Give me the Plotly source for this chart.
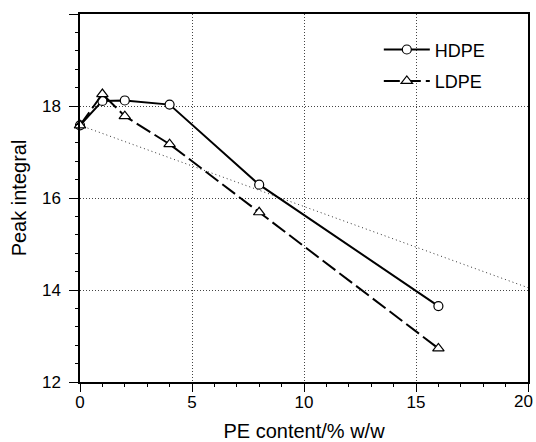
import plotly.graph_objects as go

# Data
pe_content = [0, 1, 2, 4, 8, 16]
hdpe = [17.58, 18.11, 18.12, 18.03, 16.29, 13.65]
ldpe = [17.58, 18.26, 17.78, 17.17, 15.69, 12.73]
ref_x = [0, 20]
ref_y = [17.58, 14.05]

x_ticks = [0, 5, 10, 15, 20]
x_ticktext = ["0", "5", "10", "15", ""]
x_edge_label = "20"
y_ticks = [12, 14, 16, 18, 20]
y_ticktext = ["12", "14", "16", "18", ""]

FONT = "Liberation Sans, Arial, sans-serif"

fig = go.Figure()

fig.add_trace(go.Scatter(
    x=ref_x, y=ref_y, mode="lines",
    line=dict(color="#333333", width=1, dash="1px,3px"),
    showlegend=False, hoverinfo="skip",
))

fig.add_trace(go.Scatter(
    x=pe_content, y=hdpe, mode="lines+markers", name="HDPE",
    line=dict(color="black", width=2),
    marker=dict(symbol="circle", size=9, color="white",
                line=dict(color="black", width=1.2)),
    cliponaxis=False, legendgroup="a",
))

fig.add_trace(go.Scatter(
    x=pe_content, y=ldpe, mode="lines+markers", name="LDPE",
    line=dict(color="black", width=2, dash="16px,5px"),
    marker=dict(symbol="triangle-up", size=10, color="white",
                line=dict(color="black", width=1.2)),
    cliponaxis=False, legendgroup="b",
))

fig.update_layout(
    width=536, height=442,
    margin=dict(l=80, r=8, t=14, b=60),
    paper_bgcolor="white", plot_bgcolor="white",
    font=dict(family=FONT, color="black", size=17),
    legend=dict(
        x=0.667, y=0.953, xanchor="left", yanchor="top",
        font=dict(size=18), bgcolor="rgba(0,0,0,0)",
        tracegroupgap=5, itemwidth=46,
    ),
)

# tick label at the right edge (plotly hides labels overflowing the page)
fig.add_annotation(
    x=x_ticks[-1], xref="x", y=0, yref="paper",
    text=x_edge_label, showarrow=False,
    xanchor="right", yanchor="middle", xshift=7, yshift=-19,
    font=dict(size=17, family=FONT, color="black"),
)

fig.update_xaxes(
    range=[0, 20], tickvals=x_ticks, ticktext=x_ticktext,
    showline=True, linecolor="black", linewidth=1.5, mirror=True,
    ticks="outside", ticklen=8, tickwidth=1.2, tickcolor="black",
    minor=dict(ticks="outside", ticklen=3, dtick=1, tickcolor="black", showgrid=False),
    showgrid=True, gridcolor="#444444", gridwidth=1, griddash="1px,2px",
    zeroline=False, automargin=False,
    title=dict(text="PE content/% w/w", font=dict(size=20), standoff=28),
    tickfont=dict(size=17), ticklabelstandoff=-4,
)

fig.update_yaxes(
    range=[12, 20], tickvals=y_ticks, ticktext=y_ticktext,
    showline=True, linecolor="black", linewidth=1.5, mirror=True,
    ticks="outside", ticklen=9, tickwidth=1.2, tickcolor="black",
    minor=dict(ticks="outside", ticklen=3, dtick=0.4, tick0=12, tickcolor="black", showgrid=False),
    showgrid=True, gridcolor="#444444", gridwidth=1, griddash="1px,2px",
    zeroline=False, automargin=False,
    title=dict(text="Peak integral", font=dict(size=20), standoff=10),
    tickfont=dict(size=17), ticklabelstandoff=5,
)

fig.write_html("out.html")
